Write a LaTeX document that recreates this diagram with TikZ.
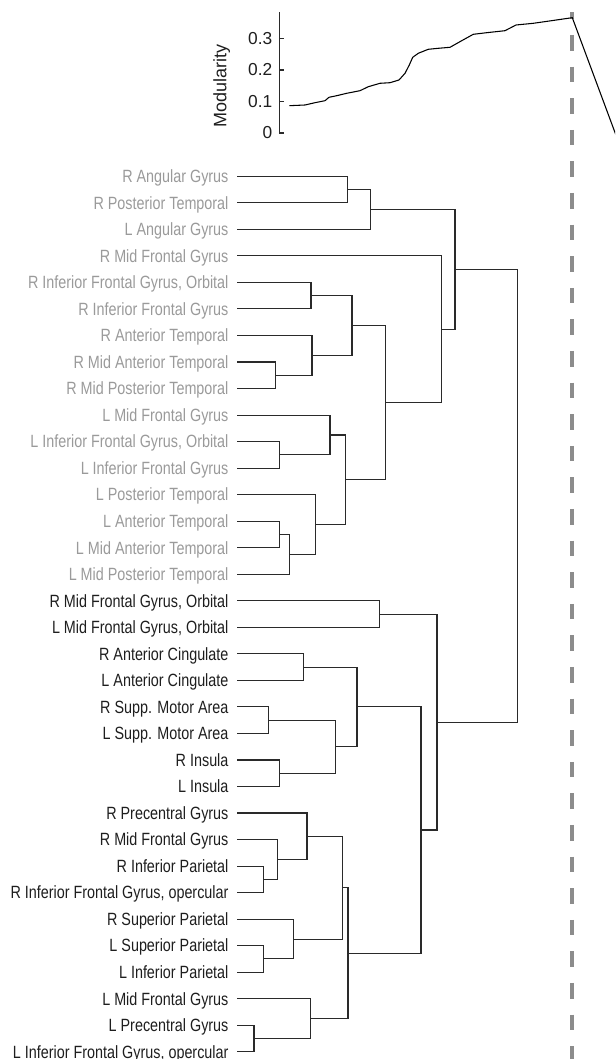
\documentclass[tikz,border=0pt]{standalone}
\usepackage{fontspec}
\setmainfont{Liberation Sans}
\newfontfamily\lblfont[FakeStretch=0.81]{Liberation Sans}
\definecolor{lblgray}{HTML}{9A9A9A}
\definecolor{lblblack}{HTML}{1E1E1E}
\definecolor{dendline}{HTML}{2A2A2A}
\definecolor{dashgray}{HTML}{8C8C8C}
\begin{document}
\begin{tikzpicture}[x=0.75pt, y=-0.75pt,
  lbl/.style={anchor=base east, inner sep=0pt, font=\lblfont\fontsize{13.3}{15}\selectfont},
  ticklbl/.style={anchor=base east, inner sep=0pt, font=\fontsize{13}{15}\selectfont, text=lblblack},
  dend/.style={draw=dendline, line width=0.8pt},
  axisline/.style={draw=dendline, line width=0.8pt},
  cutline/.style={draw=dashgray, line width=3pt, dash pattern=on 11.7pt off 12pt, dash phase=6.7pt}]
\useasboundingbox (0,0) rectangle (615,1059);
\clip (0,0) rectangle (615,1059);

% ---- cut line ----
\coordinate (cuttop) at (572.3,12.3);
\coordinate (cutbot) at (572.3,1059);
\draw[cutline] (cuttop) -- (cutbot);

% ---- modularity plot ----
\draw[axisline] (279.3,12.3) -- (279.3,133);
\foreach \v/\yy in {0/133, 0.1/101.7, 0.2/70, 0.3/38.3}{
  \draw[axisline] (279.3,\yy) -- (284.3,\yy);
  \node[ticklbl] (tick\v) at (272.5,\yy+5.9) {\v};
}
\node[rotate=90, inner sep=0pt, font=\fontsize{13.5}{15}\selectfont, text=lblblack] (ylab) at (221.7,85.8) {Modularity};
\draw[line width=0.8pt, black] (289.3,105.7) -- (305,105) -- (315,102.7) -- (325,100.7) -- (329,97.3)
  -- (336.7,95.7) -- (346.7,93.3) -- (360,90.7) -- (368.3,86.7) -- (380,83.3) -- (390,82.7)
  -- (399,80) -- (405,73.3) -- (409.3,65) -- (412.7,57.3) -- (418.3,53.3) -- (428.3,49.3)
  -- (438.3,48.3) -- (450,47.3) -- (461.7,40.7) -- (473.3,34.3) -- (486.7,32.7) -- (505,30.7)
  -- (516,25) -- (533.3,23.3) -- (572.3,17.7) -- (620,146);

% ---- leaves ----
\foreach \t [count=\i] in {R Angular Gyrus, R Posterior Temporal, L Angular Gyrus, R Mid Frontal Gyrus,
  {R Inferior Frontal Gyrus, Orbital}, R Inferior Frontal Gyrus, R Anterior Temporal, R Mid Anterior Temporal,
  R Mid Posterior Temporal, L Mid Frontal Gyrus, {L Inferior Frontal Gyrus, Orbital}, L Inferior Frontal Gyrus,
  L Posterior Temporal, L Anterior Temporal, L Mid Anterior Temporal, L Mid Posterior Temporal}{
  \node[lbl, text=lblgray] (t\i) at (228.7,{176.3+(\i-1)*26.53+6.3}) {\t};
  \coordinate (l\i) at (237,{176.3+(\i-1)*26.53});
}
\foreach \t [count=\i from 17] in {{R Mid Frontal Gyrus, Orbital}, {L Mid Frontal Gyrus, Orbital},
  R Anterior Cingulate, L Anterior Cingulate, R Supp. Motor Area, L Supp. Motor Area, R Insula, L Insula,
  R Precentral Gyrus, R Mid Frontal Gyrus, R Inferior Parietal, {R Inferior Frontal Gyrus, opercular},
  R Superior Parietal, L Superior Parietal, L Inferior Parietal, L Mid Frontal Gyrus, L Precentral Gyrus,
  {L Inferior Frontal Gyrus, opercular}}{
  \node[lbl, text=lblblack] (t\i) at (228.7,{176.3+(\i-1)*26.53+6.3}) {\t};
  \coordinate (l\i) at (237,{176.3+(\i-1)*26.53});
}

% ---- merge points ----
\coordinate (mA) at (347.7,189.57);
\coordinate (mB) at (370.7,209.46);
\coordinate (mC) at (311,295.69);
\coordinate (mD) at (275.3,375.28);
\coordinate (mE) at (312,355.38);
\coordinate (mF) at (352,325.53);
\coordinate (mG) at (279.3,454.87);
\coordinate (mH) at (330,434.97);
\coordinate (mI) at (279.3,534.46);
\coordinate (mJ) at (289.3,554.36);
\coordinate (mK) at (315.3,524.51);
\coordinate (mL) at (345.3,479.74);
\coordinate (mM) at (385.7,402.64);
\coordinate (mN) at (441.7,329.27);
\coordinate (mO) at (455,269.37);
\coordinate (mP) at (379.3,614.05);
\coordinate (mQ) at (303.7,667.1);
\coordinate (mR) at (268.7,720.17);
\coordinate (mS) at (279.3,773.23);
\coordinate (mT) at (335.7,746.7);
\coordinate (mU) at (357,706.9);
\coordinate (mV) at (263.7,879.35);
\coordinate (mW) at (277.3,859.45);
\coordinate (mX) at (307,836.24);
\coordinate (mY) at (263.3,958.94);
\coordinate (mZ) at (293.7,939.04);
\coordinate (mAA) at (342.7,887.64);
\coordinate (mAB) at (254,1038.53);
\coordinate (mAC) at (310.7,1018.63);
\coordinate (mAD) at (348,953.14);
\coordinate (mAE) at (421,830.02);
\coordinate (mAF) at (437,722.04);
\coordinate (root) at (517.7,495.7);

% ---- dendrogram links ----
\draw[dend] (l1) -| (mA) |- (l2);
\draw[dend] (mA) -| (mB) |- (l3);
\draw[dend] (l5) -| (mC) |- (l6);
\draw[dend] (l8) -| (mD) |- (l9);
\draw[dend] (l7) -| (mE) |- (mD);
\draw[dend] (mC) -| (mF) |- (mE);
\draw[dend] (l11) -| (mG) |- (l12);
\draw[dend] (l10) -| (mH) |- (mG);
\draw[dend] (l14) -| (mI) |- (l15);
\draw[dend] (mI) -| (mJ) |- (l16);
\draw[dend] (l13) -| (mK) |- (mJ);
\draw[dend] (mH) -| (mL) |- (mK);
\draw[dend] (mF) -| (mM) |- (mL);
\draw[dend] (l4) -| (mN) |- (mM);
\draw[dend] (mB) -| (mO) |- (mN);
\draw[dend] (l17) -| (mP) |- (l18);
\draw[dend] (l19) -| (mQ) |- (l20);
\draw[dend] (l21) -| (mR) |- (l22);
\draw[dend] (l23) -| (mS) |- (l24);
\draw[dend] (mR) -| (mT) |- (mS);
\draw[dend] (mQ) -| (mU) |- (mT);
\draw[dend] (l27) -| (mV) |- (l28);
\draw[dend] (l26) -| (mW) |- (mV);
\draw[dend] (l25) -| (mX) |- (mW);
\draw[dend] (l30) -| (mY) |- (l31);
\draw[dend] (l29) -| (mZ) |- (mY);
\draw[dend] (mX) -| (mAA) |- (mZ);
\draw[dend] (l33) -| (mAB) |- (l34);
\draw[dend] (l32) -| (mAC) |- (mAB);
\draw[dend] (mAA) -| (mAD) |- (mAC);
\draw[dend] (mU) -| (mAE) |- (mAD);
\draw[dend] (mP) -| (mAF) |- (mAE);
\draw[dend] (mO) -| (root) |- (mAF);
\end{tikzpicture}
\end{document}
